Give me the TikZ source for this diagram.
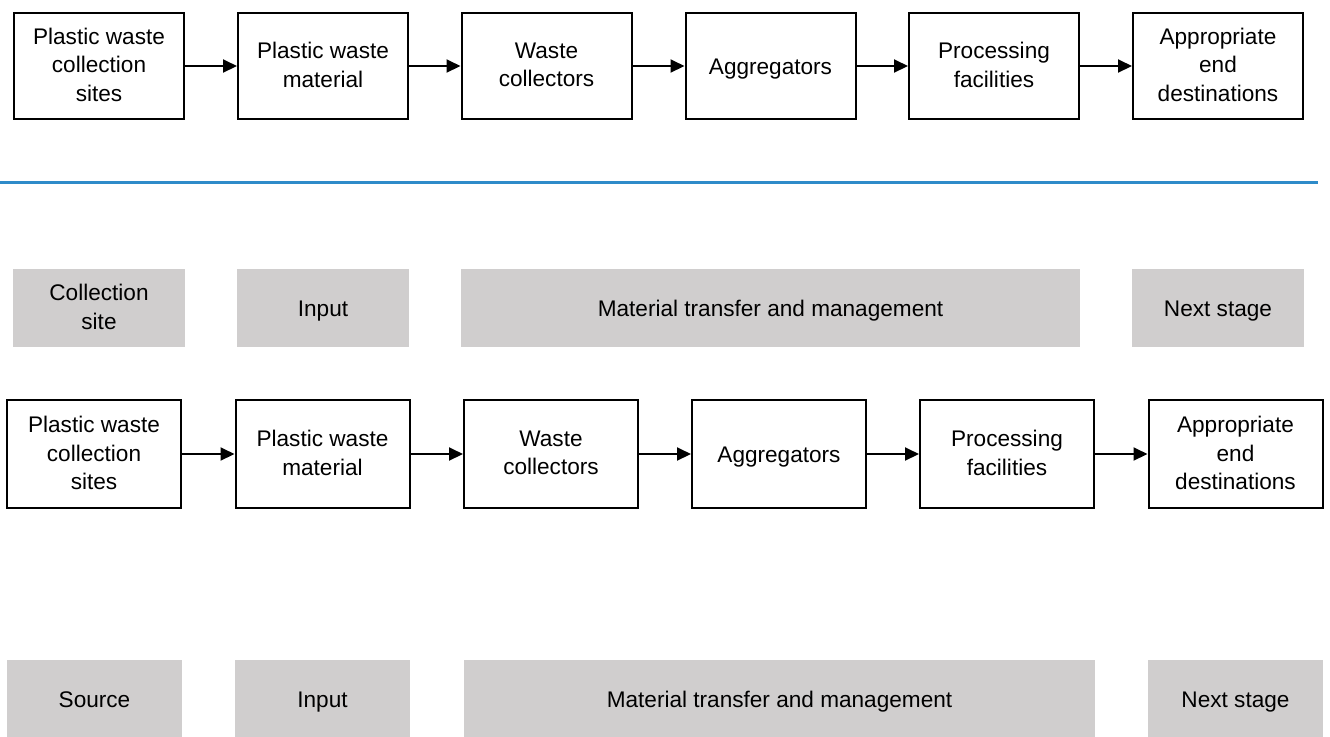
\documentclass[tikz,border=0pt]{standalone}
\usepackage{fontspec}
\setmainfont{Liberation Sans}
\usetikzlibrary{arrows.meta}
\definecolor{stagegrey}{HTML}{D0CECE}
\definecolor{divider}{HTML}{2E8BC9}

\begin{document}
\begin{tikzpicture}[
  x=.5pt,y=-.5pt,>={Triangle[length=7pt,width=6.5pt]},
  font=\fontsize{11.3}{14.2}\selectfont,
  stepbox/.style={draw=black,line width=1pt,align=center,inner sep=0pt,minimum width=85pt,minimum height=53pt,
    execute at begin node=\strut,execute at end node=\strut,text depth=1.2pt},
  stepboxB/.style={stepbox,minimum width=87pt,minimum height=54pt},
  stagebar/.style={fill=stagegrey,align=center,inner sep=0pt,minimum height=39pt,
    execute at begin node=\strut,execute at end node=\strut,text depth=1.2pt},
  flow/.style={->,line width=1pt}
]
\useasboundingbox (0,0) rectangle (1330,736);
% upper chain
\node[stepbox] (tsite) at (99,66) {Plastic waste\\collection\\sites};
\node[stepbox] (tmat)  at (323,66) {Plastic waste\\material};
\node[stepbox] (tcoll) at (546.5,66) {Waste\\collectors};
\node[stepbox] (tagg)  at (770.5,66) {Aggregators};
\node[stepbox] (tproc) at (994,66) {Processing\\facilities};
\node[stepbox] (tdest) at (1218,66) {Appropriate\\end\\destinations};
\draw[flow] (tsite) -- (tmat);
\draw[flow] (tmat) -- (tcoll);
\draw[flow] (tcoll) -- (tagg);
\draw[flow] (tagg) -- (tproc);
\draw[flow] (tproc) -- (tdest);
% divider
\coordinate (divL) at (0,182);
\coordinate (divR) at (1318,182);
\draw[divider,line width=1.5pt] (divL) -- (divR);
% stage bars, first set
\node[stagebar,minimum width=86pt] (gsite) at (99,308) {Collection\\site};
\node[stagebar,minimum width=86pt] (ginput) at (323,308) {Input};
\node[stagebar,minimum width=309.5pt] (gtransfer) at (770.5,308) {Material transfer and management};
\node[stagebar,minimum width=86pt] (gnext) at (1218,308) {Next stage};
% lower chain
\node[stepboxB] (bsite) at (94,454) {Plastic waste\\collection\\sites};
\node[stepboxB] (bmat)  at (322.5,454) {Plastic waste\\material};
\node[stepboxB] (bcoll) at (551,454) {Waste\\collectors};
\node[stepboxB] (bagg)  at (779,454) {Aggregators};
\node[stepboxB] (bproc) at (1007,454) {Processing\\facilities};
\node[stepboxB] (bdest) at (1235.5,454) {Appropriate\\end\\destinations};
\draw[flow] (bsite) -- (bmat);
\draw[flow] (bmat) -- (bcoll);
\draw[flow] (bcoll) -- (bagg);
\draw[flow] (bagg) -- (bproc);
\draw[flow] (bproc) -- (bdest);
% stage bars, second set
\node[stagebar,minimum width=87.5pt] (hsource) at (94.5,699) {Source};
\node[stagebar,minimum width=87.5pt] (hinput) at (322.5,699) {Input};
\node[stagebar,minimum width=315.5pt] (htransfer) at (779.5,699) {Material transfer and management};
\node[stagebar,minimum width=87.5pt] (hnext) at (1235.5,699) {Next stage};
\end{tikzpicture}
\end{document}
